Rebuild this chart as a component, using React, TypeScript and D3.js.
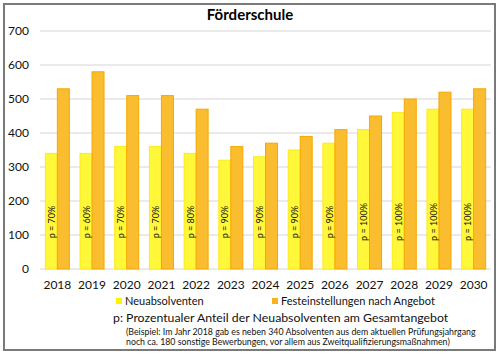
import React from "react";
import * as d3 from "d3";

const years = ["2018","2019","2020","2021","2022","2023","2024","2025","2026","2027","2028","2029","2030"];
const neuabsolventen = [340,340,360,360,340,320,330,350,370,410,460,470,470];
const festeinstellungen = [530,580,510,510,470,360,370,390,410,450,500,520,530];
const pLabels = ["p = 70%","p = 60%","p = 70%","p = 70%","p = 80%","p = 90%","p = 90%","p = 90%","p = 90%","p = 100%","p = 100%","p = 100%","p = 100%"];
const yTicks = [0,100,200,300,400,500,600,700];

const W = 500, H = 356;
const FONT = "Lato, 'Open Sans', sans-serif";

export default function App() {
  const x = d3.scaleBand<string>().domain(years).range([40, 491]);
  const y = d3.scaleLinear().domain([0, 700]).range([269, 31]);
  const barW = 12;
  return (
    <svg width={W} height={H} style={{ position: "absolute", left: 0, top: 0, background: "#fff" }}>
      <rect x={4} y={4} width={491} height={346} fill="#fff" stroke="#7a7a7a" strokeWidth={2} />
      <text x={250} y={20} textAnchor="middle" fontFamily={FONT} fontWeight="bold" fontSize={15} fill="#000">Förderschule</text>
      {yTicks.map((t) => (
        <g key={t}>
          <line x1={40} x2={491} y1={y(t)} y2={y(t)} stroke="#e3e3e3" strokeWidth={1.5} />
          <text x={29} y={y(t)} dy="0.35em" textAnchor="end" fontFamily={FONT} fontSize={12} fill="#111">{t}</text>
        </g>
      ))}
      {years.map((yr, i) => {
        const c = (x(yr) as number) + x.bandwidth() / 2;
        return (
          <g key={yr}>
            <rect x={c - barW} y={y(neuabsolventen[i])} width={barW} height={y(0) - y(neuabsolventen[i])} fill="#FFF73A" stroke="#FFE81A" strokeWidth={1} />
            <rect x={c} y={y(festeinstellungen[i])} width={barW} height={y(0) - y(festeinstellungen[i])} fill="#FBBD30" stroke="#F5A700" strokeWidth={1} />
            <text transform={`translate(${c - barW / 2 + 0.5},${222}) rotate(-90)`} textAnchor="middle" dy="0.35em" fontFamily={FONT} fontSize={9} fill="#111">{pLabels[i]}</text>
            <text x={c} y={285} dy="0.35em" textAnchor="middle" fontFamily={FONT} fontSize={12} fill="#111">{yr}</text>
          </g>
        );
      })}
      <rect x={116} y={298} width={6} height={6} fill="#FFF200" />
      <text x={125} y={301} dy="0.35em" fontFamily={FONT} fontSize={11} fill="#111">Neuabsolventen</text>
      <rect x={272} y={298} width={6} height={6} fill="#F9B21E" />
      <text x={281} y={301} dy="0.35em" fontFamily={FONT} fontSize={11} fill="#111">Festeinstellungen nach Angebot</text>
      <text x={113} y={318} dy="0.35em" fontFamily={FONT} fontSize={12.3} fill="#111">p: Prozentualer Anteil der Neuabsolventen am Gesamtangebot</text>
      <text x={126} y={332} dy="0.35em" fontFamily={FONT} fontSize={8.8} fill="#111">(Beispiel: Im Jahr 2018 gab es neben 340 Absolventen aus dem aktuellen Prüfungsjahrgang</text>
      <text x={126} y={342} dy="0.35em" fontFamily={FONT} fontSize={8.8} fill="#111">noch ca. 180 sonstige Bewerbungen, vor allem aus Zweitqualifizierungsmaßnahmen)</text>
    </svg>
  );
}
